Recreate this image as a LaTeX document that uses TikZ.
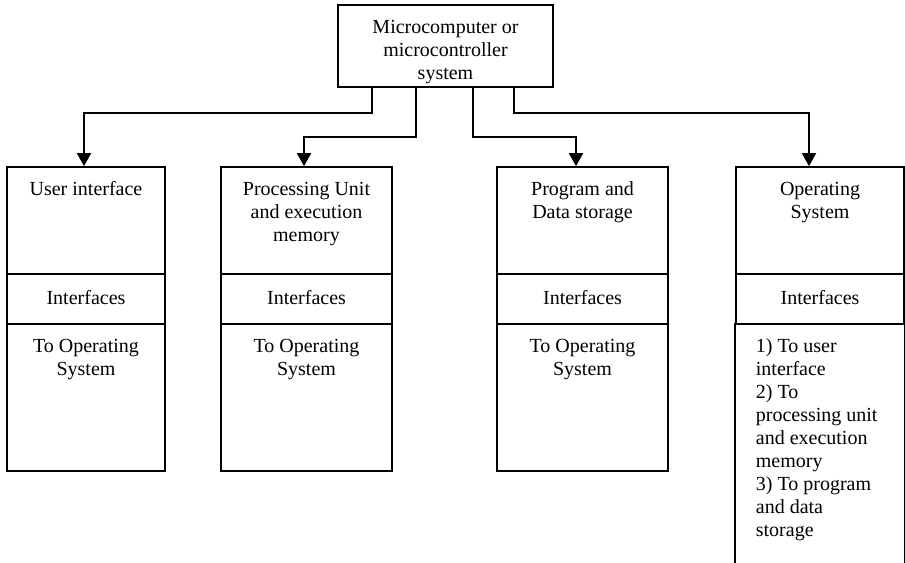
\documentclass[tikz,border=0pt]{standalone}
\usepackage{fontspec}
\setmainfont{Liberation Serif}
\usetikzlibrary{arrows.meta}

\tikzset{every picture/.style={line width=1.3pt}}
\tikzset{
  box/.style={draw, inner sep=0pt},
  txt/.style={font=\fontsize{15}{17.25}\selectfont, align=center, inner sep=0pt, anchor=north},
  arr/.style={-{Triangle[width=10.5pt,length=9.75pt]}}
}

\begin{document}
\begin{tikzpicture}[x=0.75pt,y=0.75pt,yscale=-1,xscale=1]
\useasboundingbox (0,0) rectangle (905,562);

%Shape: Rectangle [top]
\node[box, minimum width=161.25pt, minimum height=61.5pt] (sys) at (445.5,46) {};
% Text Node
\node[txt] (systxt) at (445.5,19) {Microcomputer or\\microcontroller\\system};

%Shape: Rectangle [user interface]
\node[box, minimum width=118.5pt, minimum height=80.25pt] (ui) at (86,220.5) {};
\node[box, minimum width=118.5pt, minimum height=37.5pt] (uiif) at (86,299) {};
\node[box, minimum width=118.5pt, minimum height=110.25pt] (uito) at (86,397.5) {};
% Text Node
\node[txt] (uitxt) at (86,181) {User interface};
\node[txt, anchor=center] (uiiftxt) at (86,298) {Interfaces};
\node[txt] (uitotxt) at (86,338) {To Operating\\System};

%Shape: Rectangle [processing unit]
\node[box, minimum width=128.25pt, minimum height=80.25pt] (pu) at (306.5,220.5) {};
\node[box, minimum width=128.25pt, minimum height=37.5pt] (puif) at (306.5,299) {};
\node[box, minimum width=128.25pt, minimum height=110.25pt] (puto) at (306.5,397.5) {};
% Text Node
\node[txt] (putxt) at (306.5,181) {Processing Unit\\and execution\\memory};
\node[txt, anchor=center] (puiftxt) at (306.5,298) {Interfaces};
\node[txt] (putotxt) at (306.5,338) {To Operating\\System};

%Shape: Rectangle [program and data storage]
\node[box, minimum width=128.25pt, minimum height=80.25pt] (pds) at (582.5,220.5) {};
\node[box, minimum width=128.25pt, minimum height=37.5pt] (pdsif) at (582.5,299) {};
\node[box, minimum width=128.25pt, minimum height=110.25pt] (pdsto) at (582.5,397.5) {};
% Text Node
\node[txt] (pdstxt) at (582.5,181) {Program and\\Data storage};
\node[txt, anchor=center] (pdsiftxt) at (582.5,298) {Interfaces};
\node[txt] (pdstotxt) at (582.5,338) {To Operating\\System};

%Shape: Rectangle [operating system]
\node[box, minimum width=126pt, minimum height=80.25pt] (os) at (820,220.5) {};
\node[box, minimum width=126pt, minimum height=37.5pt] (osif) at (820,299) {};
\node[inner sep=0pt, minimum width=126pt, minimum height=181.5pt] (osto) at (820,445) {};
\draw (osto.north west) -- (osto.south west);
\draw (osto.north east) -- (osto.south east);
% Text Node
\node[txt] (ostxt) at (820,181) {Operating\\System};
\node[txt, anchor=center] (osiftxt) at (820,298) {Interfaces};
\node[txt, align=left, anchor=north west] (ostotxt) at (755,338) {1) To user\\interface\\2) To\\processing unit\\and execution\\memory\\3) To program\\and data\\storage};

%Straight Lines
\draw[arr] ([xshift=-55.125pt]sys.south) -- ++(0,25) -| ([xshift=-1.5pt]ui.north);
\draw[arr] ([xshift=-22.125pt]sys.south) -- ++(0,49) -| ([xshift=-1.875pt]pu.north);
\draw[arr] ([xshift=20.625pt]sys.south) -- ++(0,49) -| ([xshift=-4.875pt]pds.north);
\draw[arr] ([xshift=51.375pt]sys.south) -- ++(0,25) -| ([xshift=-8.25pt]os.north);

\end{tikzpicture}
\end{document}
